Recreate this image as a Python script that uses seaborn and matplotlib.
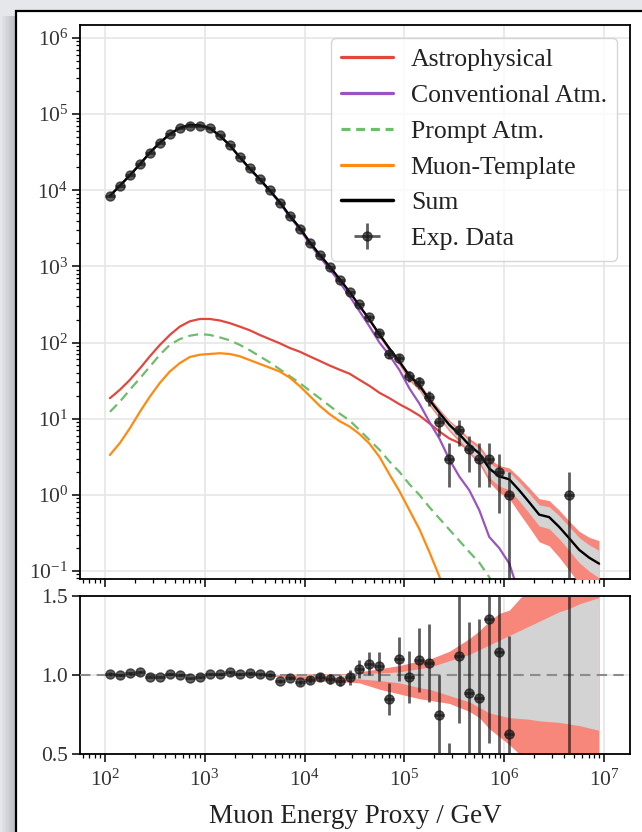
import numpy as np
import matplotlib
matplotlib.use("Agg")
import matplotlib.pyplot as plt
import seaborn as sns
from matplotlib.patches import Rectangle
from matplotlib.lines import Line2D
from matplotlib.ticker import LogLocator, NullFormatter

# ---------------- data ----------------
log_energy = [2.05, 2.15, 2.25, 2.35, 2.45, 2.55, 2.65, 2.75, 2.85, 2.95,
              3.05, 3.15, 3.25, 3.35, 3.45, 3.55, 3.65, 3.75, 3.85, 3.95,
              4.05, 4.15, 4.25, 4.35, 4.45, 4.55, 4.65, 4.75, 4.85, 4.95,
              5.05, 5.15, 5.25, 5.35, 5.45, 5.55, 5.65, 5.75, 5.85, 5.95,
              6.05, 6.15, 6.25, 6.35, 6.45, 6.55, 6.65, 6.75, 6.85, 6.95]
bin_half_width = 0.05

exp_counts = [8500, 11500, 15900, 22400, 30900, 41700, 55000, 66000, 70800, 70000,
              66000, 52500, 39800, 27500, 19500, 14100, 10000, 6760, 4570, 3090,
              2040, 1413, 977, 661, 457, 316, 214, 135, 71, 62,
              36, 30, 19, 9, 3, 7, 4, 3, 3, 2,
              1, 0, 0, 0, 0, 0, 1, 0, 0, 0]

model_sum = [8450, 11500, 15740, 21960, 31210, 42120, 54670, 66000, 72240, 71070,
             65600, 52190, 39130, 27280, 19310, 14040, 10000, 7040, 4660, 3240,
             2100, 1430, 1002, 685, 464, 304, 200, 128, 83.5, 56.4,
             36.5, 27.4, 17.7, 12.0, 8.3, 6.25, 4.5, 3.5, 2.22, 1.75,
             1.6, 1.15, 0.80, 0.55, 0.51, 0.38, 0.27, 0.19, 0.15, 0.125]

astrophysical = [18.6, 24, 32.4, 45.7, 66, 93, 126, 162, 190, 204,
                 204, 195, 180, 162, 145, 126, 111, 98, 85, 76,
                 66, 57.5, 50, 44, 39, 32.4, 27, 21.9, 18.6, 15.5,
                 13.2, 11.0, 8.7, 6.8, 5.5, 4.8, 3.9, 3.16, 2.14, 1.66,
                 1.55, 1.10, 0.77, 0.53, 0.49, 0.365, 0.26, 0.183, 0.145, 0.121]

conventional = [8415, 11454, 15676, 21868, 31076, 41928, 54409, 65673, 71862, 70668,
                65199, 51806, 38772, 26959, 19027, 13793, 9784, 6853, 4503, 3107,
                1990, 1339, 926, 620, 408, 258, 163, 100, 68, 43.6,
                25, 15.8, 9.1, 5.5, 2.92, 1.74, 1.15, 0.63, 0.28, 0.20,
                0.126, 0.05, 0.02, 0.01, 0.005, 0.003, 0.002, 0.001, 0.0007, 0.0005]

prompt = [12.3, 16.8, 24, 33.9, 48.4, 69.2, 93.3, 111, 123, 129,
          126, 117, 107, 93.3, 79.4, 66, 55, 44.7, 36.3, 29.5,
          23.4, 18.6, 14.8, 11.7, 9.5, 7.1, 5.25, 3.9, 2.75, 2.0,
          1.38, 1.0, 0.69, 0.49, 0.35, 0.25, 0.178, 0.129, 0.083, 0.05,
          0.032, 0.02, 0.013, 0.008, 0.005, 0.003, 0.002, 0.0013, 0.0008, 0.0005]

muon_template = [3.34, 4.8, 7.5, 12.3, 19.5, 29.5, 41.7, 53.7, 64.6, 69.2,
                 70.8, 72.4, 70.8, 66.1, 58.9, 52.5, 46.8, 41.7, 34.7, 26.9,
                 20, 14.8, 11.5, 9.3, 7.9, 6.3, 4.7, 3.16, 1.86, 1.12,
                 0.63, 0.355, 0.178, 0.085, 0.035, 0.015, 0.006, 0.0025, 0.001, 0.0004,
                 0.0002, 0.0001, 0.0001, 0.0001, 0.0001, 0.0001, 0.0001, 0.0001, 0.0001, 0.0001]

# relative uncertainty bands of the summed model
inner_lo = [1.0] * 16 + [0.999, 0.998, 0.997, 0.995, 0.993, 0.99, 0.988, 0.985, 0.98, 0.975,
                          0.97, 0.965, 0.958, 0.95, 0.935, 0.92, 0.91, 0.89, 0.87, 0.85,
                          0.83, 0.795, 0.76, 0.745, 0.73, 0.725, 0.72, 0.71, 0.705, 0.70,
                          0.69, 0.68, 0.665, 0.65]
inner_hi = [1.0] * 16 + [1.001, 1.001, 1.002, 1.003, 1.003, 1.004, 1.005, 1.005, 1.006, 1.008,
                          1.01, 1.013, 1.016, 1.02, 1.03, 1.04, 1.05, 1.07, 1.09, 1.11,
                          1.13, 1.16, 1.19, 1.22, 1.25, 1.28, 1.31, 1.34, 1.37, 1.40,
                          1.42, 1.45, 1.47, 1.49]
outer_lo = [1.0] * 16 + [0.995, 0.99, 0.98, 0.97, 0.965, 0.96, 0.96, 0.955, 0.955, 0.95,
                          0.93, 0.91, 0.895, 0.88, 0.865, 0.85, 0.84, 0.83, 0.82, 0.795,
                          0.77, 0.73, 0.66, 0.61, 0.56, 0.50, 0.47, 0.44, 0.42, 0.40,
                          0.38, 0.36, 0.33, 0.30]
outer_hi = [1.0] * 16 + [1.002, 1.003, 1.004, 1.006, 1.007, 1.008, 1.008, 1.009, 1.01, 1.02,
                          1.03, 1.04, 1.05, 1.06, 1.075, 1.09, 1.10, 1.125, 1.15, 1.19,
                          1.23, 1.28, 1.34, 1.39, 1.41, 1.48, 1.55, 1.62, 1.65, 1.66,
                          1.68, 1.75, 1.85, 2.0]

x_tick_labels = [r"$10^{2}$", r"$10^{3}$", r"$10^{4}$", r"$10^{5}$", r"$10^{6}$", r"$10^{7}$"]
ratio_ticks = [0.5, 1.0, 1.5]
ratio_tick_labels = ["0.5", "1.0", "1.5"]

series_labels = ["Astrophysical", "Conventional Atm.", "Prompt Atm.", "Muon-Template", "Sum", "Exp. Data"]
c_astro = "#e2473d"
c_conv = "#9954c1"
c_prompt = "#6cbd6c"
c_muon = "#ff8a0f"
c_outer = "#f8877b"
c_inner = "#d3d3d3"

# ---------------- derived arrays ----------------
le = np.array(log_energy)
energy = 10 ** le
e_lo = energy - 10 ** (le - bin_half_width)
e_hi = 10 ** (le + bin_half_width) - energy
counts = np.array(exp_counts, dtype=float)
msum = np.array(model_sum)
has = counts > 0
err = np.sqrt(counts)

# ---------------- style ----------------
sns.set_theme(style="whitegrid")
plt.rcParams.update({
    "font.family": ["Liberation Serif", "DejaVu Serif"],
    "mathtext.fontset": "custom",
    "mathtext.rm": "Liberation Serif",
    "mathtext.it": "Liberation Serif:italic",
    "mathtext.bf": "Liberation Serif:bold",
    "axes.edgecolor": "black",
    "axes.linewidth": 1.3,
    "grid.color": "#e6e6e6",
    "grid.linewidth": 1.2,
})

fig = plt.figure(figsize=(6.42, 8.32), dpi=100)
fig.patch.set_facecolor("#e5e7eb")
W, H = 642.0, 832.0

# card shadow on the left and the white card with a black border
for k in range(10):
    fig.add_artist(Rectangle(((16 - 1.4 * (k + 1)) / W, -0.1), 1.4 * (k + 1) / W, 1 - 16 / H + 0.1,
                             transform=fig.transFigure, fc="#7a7f88", ec="none",
                             alpha=0.045, zorder=-20))
fig.add_artist(Rectangle((16 / W, -0.1), 1.2, 1 - 11 / H + 0.1, transform=fig.transFigure,
                         fc="white", ec="black", lw=1.6, zorder=-10))

ax = fig.add_axes([80 / W, 1 - 579 / H, 550 / W, 554 / H])
axr = fig.add_axes([80 / W, 1 - 754 / H, 550 / W, 158 / H], sharex=ax)
for a in (ax, axr):
    a.set_facecolor("none")
    a.set_xscale("log")
ax.set_yscale("log")

# ---------------- top panel ----------------
sns.lineplot(x=energy, y=np.array(astrophysical), ax=ax, color=c_astro, lw=1.6, legend=False, zorder=2)
sns.lineplot(x=energy, y=np.array(conventional), ax=ax, color=c_conv, lw=1.6, legend=False, zorder=2)
sns.lineplot(x=energy, y=np.array(prompt), ax=ax, color=c_prompt, lw=1.6, linestyle=(0, (4.5, 2.6)),
             legend=False, zorder=2)
sns.lineplot(x=energy, y=np.array(muon_template), ax=ax, color=c_muon, lw=1.6, legend=False, zorder=2)
ax.fill_between(energy, msum * np.array(outer_lo), msum * np.array(outer_hi), color=c_outer, lw=0, zorder=3)
ax.fill_between(energy, msum * np.array(inner_lo), msum * np.array(inner_hi), color=c_inner, lw=0, zorder=3)
sns.lineplot(x=energy, y=msum, ax=ax, color="black", lw=1.7, legend=False, zorder=4)

ylow = np.minimum(err, counts * 0.9999)
eb = ax.errorbar(energy[has], counts[has], yerr=[ylow[has], err[has]],
                 xerr=[e_lo[has], e_hi[has]], fmt="o", color="#1a1a1a", alpha=0.7,
                 ms=6.5, elinewidth=2.0, capsize=0, zorder=5)

ax.set_xlim(10 ** 1.75, 10 ** 7.26)
ax.set_ylim(10 ** -1.105, 10 ** 6.17)

# ---------------- ratio panel ----------------
axr.fill_between(energy, outer_lo, outer_hi, color=c_outer, lw=0, zorder=2)
axr.fill_between(energy, inner_lo, inner_hi, color=c_inner, lw=0, zorder=2)
axr.axhline(1.0, color="#8c8c8c", lw=1.5, ls=(0, (5, 3)), zorder=3)
ratio = counts / msum
rerr = err / msum
rlow = np.minimum(rerr, ratio * 0.9999)
axr.errorbar(energy[has], ratio[has], yerr=[rlow[has], rerr[has]],
             xerr=[e_lo[has], e_hi[has]], fmt="o", color="#1a1a1a", alpha=0.7,
             ms=6.5, elinewidth=2.0, capsize=0, zorder=5)
axr.set_ylim(0.5, 1.5)
axr.set_yticks(ratio_ticks)
axr.set_yticklabels(ratio_tick_labels)
axr.set_xticks([1e2, 1e3, 1e4, 1e5, 1e6, 1e7])
axr.set_xticklabels(x_tick_labels)
axr.set_xlabel("Muon Energy Proxy / GeV", fontsize=19.5, color="#222222", labelpad=9)

# ---------------- ticks, grid, spines ----------------
for a in (ax, axr):
    a.xaxis.set_minor_locator(LogLocator(base=10, subs=np.arange(2, 10), numticks=100))
    a.xaxis.set_minor_formatter(NullFormatter())
    a.tick_params(which="major", direction="out", length=5.5, width=1.1, color="black",
                  labelsize=15.5, labelcolor="#333333", bottom=True, left=True, top=False, right=False, pad=3)
    a.tick_params(which="minor", direction="out", length=3.2, width=0.9, color="black",
                  bottom=True, left=(a is ax), top=False, right=False)
    a.grid(True, which="major", color="#e6e6e6", lw=1.2)
    a.grid(False, which="minor")
    for s in a.spines.values():
        s.set_color("black")
        s.set_linewidth(1.3)
axr.tick_params(axis="x", which="major", pad=6)
ax.yaxis.set_major_locator(LogLocator(base=10, numticks=20))
ax.yaxis.set_minor_locator(LogLocator(base=10, subs=np.arange(2, 10), numticks=100))
ax.yaxis.set_minor_formatter(NullFormatter())
ax.tick_params(labelbottom=False)
axr.yaxis.set_minor_locator(plt.NullLocator())
ax.set_xlim(10 ** 1.75, 10 ** 7.26)

# ---------------- legend ----------------
handles = [
    Line2D([], [], color=c_astro, lw=2.3),
    Line2D([], [], color=c_conv, lw=2.3),
    Line2D([], [], color=c_prompt, lw=2.3, ls=(0, (2.8, 1.8))),
    Line2D([], [], color=c_muon, lw=2.3),
    Line2D([], [], color="black", lw=2.5),
    eb,
]
leg = ax.legend(handles, series_labels, loc="upper right", fontsize=18.5, labelspacing=0.5,
                handlelength=2.0, handletextpad=0.7, borderpad=0.4, frameon=True,
                fancybox=True, framealpha=0.8, edgecolor="#cccccc")
leg.get_frame().set_linewidth(1.0)
for t in leg.get_texts():
    t.set_color("#222222")

fig.savefig("out.png", dpi=100, facecolor=fig.get_facecolor())
